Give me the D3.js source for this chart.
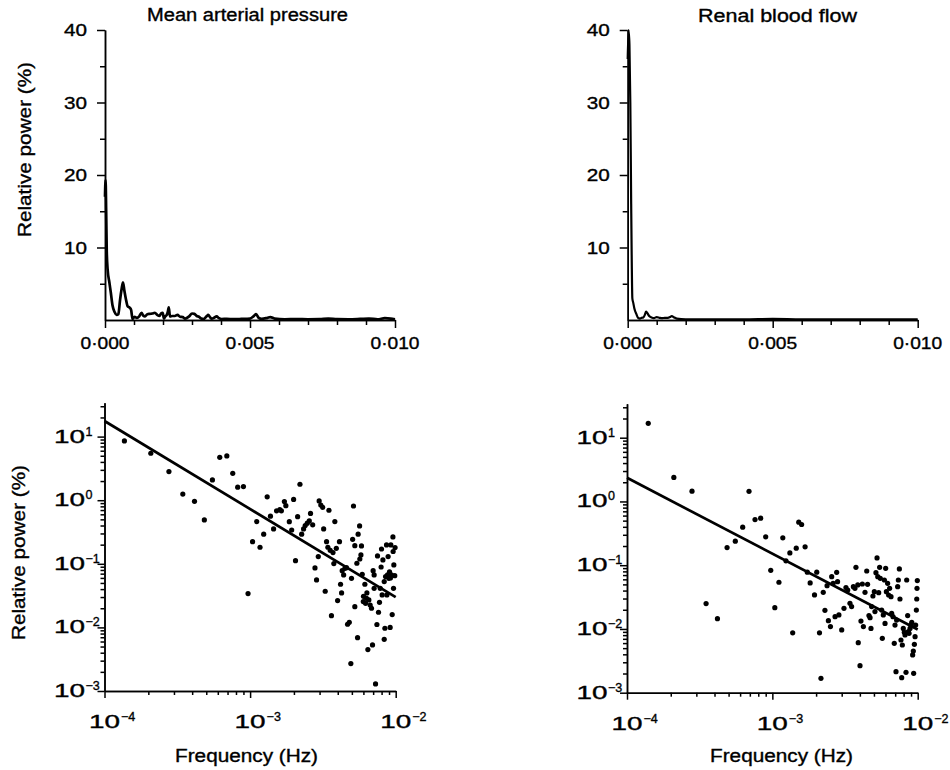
<!DOCTYPE html>
<html><head><meta charset="utf-8">
<script src="https://cdn.jsdelivr.net/npm/d3@7"></script>
<style>
body{margin:0;background:#fff}
text{font-family:"Liberation Sans",Arial,sans-serif;fill:#000;stroke:#000;stroke-width:0.35}
</style>
</head><body>
<svg id="c" width="950" height="770"></svg>
<script>
// ---------------- DATA ----------------
const titles = ["Mean arterial pressure", "Renal blood flow"];
const yAxisTitle = "Relative power (%)";
const xAxisTitle = "Frequency (Hz)";

// top panels (linear)
const linXTicksMajor = [0, 0.005, 0.010];
const linXTickLabels = ["0\u00b7000", "0\u00b7005", "0\u00b7010"];
const linXTicksMinor = [0.001, 0.002, 0.003, 0.004, 0.006, 0.007, 0.008, 0.009];
const linYTicksMajor = [10, 20, 30, 40];
const linYTickLabels = ["10", "20", "30", "40"];
const linYTicksMinor = [5, 15, 25, 35];

const mapSpecFreq = [0, 0.00002, 0.00004, 0.00006, 0.00009, 0.00015, 0.00020, 0.00026, 0.00033, 0.00040,
  0.00046, 0.00052, 0.00057, 0.00062, 0.00067, 0.00072, 0.00078, 0.00085, 0.00090, 0.00095,
  0.00102, 0.00110, 0.00118, 0.00126, 0.00132, 0.00138, 0.00146, 0.00155, 0.00163, 0.00172,
  0.00180, 0.00188, 0.00193, 0.00199, 0.00203, 0.00208, 0.00213, 0.00217, 0.00220, 0.00224,
  0.00232, 0.00241, 0.00250, 0.00259, 0.00268, 0.00276, 0.00290, 0.00300, 0.00308, 0.00316,
  0.00324, 0.00332, 0.00339, 0.00350, 0.00356, 0.00362, 0.00368, 0.00376, 0.00385, 0.00393,
  0.00402, 0.00420, 0.00443, 0.00470, 0.00500, 0.00512, 0.00521, 0.00530, 0.00540, 0.00560,
  0.00570, 0.00585, 0.00620, 0.00660, 0.00700, 0.00740, 0.00770, 0.00800, 0.00840, 0.00880,
  0.00910, 0.00940, 0.00965, 0.00985, 0.01000];
const mapSpecPower = [17, 19.3, 15, 9.5, 7, 5.2, 3.8, 2.0, 1.1, 0.7,
  0.8, 2.8, 4.2, 5.2, 4.0, 2.9, 1.9, 1.7, 1.4, 0.15,
  0.45, 0.3, 0.5, 1.0, 0.6, 0.5, 0.8, 0.85, 0.9, 1.0,
  0.7, 0.55, 0.9, 1.0, 0.2, 0.5, 0.7, 1.2, 1.75, 0.5,
  0.55, 0.55, 0.7, 0.45, 0.4, 0.18, 0.5, 0.9, 0.85, 0.55,
  0.45, 0.2, 0.12, 0.5, 0.7, 0.4, 0.18, 0.3, 0.5, 0.25,
  0.14, 0.15, 0.12, 0.15, 0.2, 0.5, 0.8, 0.3, 0.15, 0.3,
  0.4, 0.2, 0.1, 0.12, 0.1, 0.12, 0.2, 0.12, 0.1, 0.15,
  0.2, 0.1, 0.25, 0.2, 0.1];

const rbfSpecFreq = [0, 0.00003, 0.00006, 0.00009, 0.00012, 0.00014, 0.00016, 0.00019, 0.00023, 0.00030,
  0.00036, 0.00042, 0.00048, 0.00054, 0.00059, 0.00063, 0.00067, 0.00074, 0.00082, 0.00090,
  0.00100, 0.00110, 0.00118, 0.00128, 0.00138, 0.00146, 0.00152, 0.00160, 0.00169, 0.00200,
  0.00300, 0.00400, 0.00500, 0.00600, 0.00800, 0.01000];
const rbfSpecPower = [36, 40, 38, 30, 16, 8, 3, 2.4, 1.6, 0.8,
  0.3, 0.2, 0.3, 0.35, 0.7, 1.15, 1.0, 0.55, 0.35, 0.25,
  0.4, 0.3, 0.25, 0.3, 0.3, 0.4, 0.55, 0.35, 0.2, 0.1,
  0.1, 0.1, 0.15, 0.1, 0.1, 0.1];

// bottom panels (log-log)
const logXTicksMajor = [1e-4, 1e-3, 1e-2];
const logXTickExp = ["\u22124", "\u22123", "\u22122"];
const logXTicksMinor = [2e-4, 3e-4, 4e-4, 5e-4, 6e-4, 7e-4, 8e-4, 9e-4,
  2e-3, 3e-3, 4e-3, 5e-3, 6e-3, 7e-3, 8e-3, 9e-3];
const logYTicksMajor = [1e-3, 1e-2, 1e-1, 1e0, 1e1];
const logYTickExp = ["\u22123", "\u22122", "\u22121", "0", "1"];
const logYTicksMinor = [2e-3, 3e-3, 4e-3, 5e-3, 6e-3, 7e-3, 8e-3, 9e-3,
  2e-2, 3e-2, 4e-2, 5e-2, 6e-2, 7e-2, 8e-2, 9e-2,
  0.2, 0.3, 0.4, 0.5, 0.6, 0.7, 0.8, 0.9,
  2, 3, 4, 5, 6, 7, 8, 9, 20, 30];

const mapFreq = [1.37e-4, 2.08e-4, 2.77e-4, 3.45e-4, 4.15e-4, 4.85e-4, 5.51e-4, 6.19e-4, 6.92e-4, 7.60e-4,
  8.22e-4, 9.00e-4, 9.68e-4, 1.04e-3, 1.11e-3, 1.17e-3, 1.24e-3, 1.31e-3, 1.38e-3, 1.45e-3,
  1.52e-3, 1.60e-3, 1.64e-3, 1.72e-3, 1.76e-3, 1.86e-3, 1.93e-3, 1.99e-3, 2.05e-3, 2.12e-3,
  2.20e-3, 2.26e-3, 2.33e-3, 2.39e-3, 2.47e-3, 2.55e-3, 2.60e-3, 2.69e-3, 2.79e-3, 2.86e-3,
  2.94e-3, 2.98e-3, 3.06e-3, 3.15e-3, 3.20e-3, 3.28e-3, 3.35e-3, 3.42e-3, 3.48e-3, 3.55e-3,
  3.62e-3, 3.71e-3, 3.76e-3, 3.82e-3, 3.91e-3, 3.99e-3, 4.11e-3, 4.18e-3, 4.25e-3, 4.29e-3,
  4.39e-3, 4.48e-3, 4.59e-3, 4.67e-3, 4.80e-3, 4.92e-3, 4.97e-3, 5.06e-3, 5.13e-3, 5.24e-3,
  5.24e-3, 5.41e-3, 5.47e-3, 5.52e-3, 5.65e-3, 5.67e-3, 5.77e-3, 5.82e-3, 5.89e-3, 6.01e-3,
  6.14e-3, 6.21e-3, 6.34e-3, 6.44e-3, 6.54e-3, 6.68e-3, 6.82e-3, 6.93e-3, 7.00e-3, 7.11e-3,
  7.11e-3, 7.27e-3, 7.43e-3, 7.50e-3, 7.62e-3, 7.74e-3, 7.83e-3, 7.94e-3, 7.99e-3, 8.17e-3,
  8.34e-3, 8.43e-3, 8.52e-3, 8.65e-3, 8.79e-3, 8.87e-3, 8.97e-3, 9.16e-3, 9.26e-3, 9.35e-3,
  9.46e-3, 9.57e-3, 9.66e-3, 9.71e-3, 8.34e-3, 9.07e-3, 8.70e-3, 8.07e-3, 9.60e-3, 5.99e-3,
  6.30e-3, 9.90e-3, 9.85e-3, 9.20e-3];
const mapPower = [8.55, 5.47, 2.82, 1.25, 0.96, 0.49, 2.08, 4.73, 4.97, 2.65,
  1.60, 1.64, 0.034, 0.223, 0.461, 0.182, 0.292, 1.13, 0.56, 0.353,
  0.68, 0.71, 0.68, 0.95, 0.82, 0.46, 0.34, 1.03, 0.112, 0.55,
  1.78, 0.292, 0.353, 0.40, 0.435, 0.472, 0.62, 0.41, 0.086, 0.0557,
  0.130, 0.975, 0.84, 0.77, 0.353, 0.037, 0.223, 0.182, 0.695, 0.163,
  0.0153, 0.150, 0.101, 0.461, 0.175, 0.0264, 0.223, 0.0477, 0.0348, 0.078,
  0.0668, 0.085, 0.087, 0.0112, 0.0120, 0.0027, 0.059, 0.243, 0.81, 0.0212,
  0.193, 0.102, 0.0069, 0.292, 0.394, 0.119, 0.138, 0.191, 0.0684, 0.0308,
  0.0477, 0.0239, 0.0348, 0.00448, 0.0270, 0.0225, 0.0200, 0.0053, 0.078, 0.0668,
  0.0412, 0.00129, 0.0111, 0.133, 0.0173, 0.0248, 0.0412, 0.089, 0.171, 0.115,
  0.0065, 0.0097, 0.063, 0.198, 0.0668, 0.130, 0.059, 0.0100, 0.198, 0.0668,
  0.0159, 0.265, 0.0412, 0.096, 0.0525, 0.075, 0.0324, 0.0324, 0.156, 0.0255,
  0.0287, 0.18, 0.065, 0.06];

const rbfFreq = [1.40e-4, 2.10e-4, 2.80e-4, 3.50e-4, 4.19e-4, 4.88e-4, 5.56e-4, 6.25e-4, 6.91e-4, 7.60e-4,
  8.31e-4, 9.00e-4, 9.75e-4, 1.04e-3, 1.11e-3, 1.18e-3, 1.24e-3, 1.32e-3, 1.38e-3, 1.46e-3,
  1.52e-3, 1.59e-3, 1.68e-3, 1.74e-3, 1.82e-3, 1.95e-3, 2.02e-3, 2.11e-3, 2.16e-3, 2.24e-3,
  2.30e-3, 2.38e-3, 2.43e-3, 2.51e-3, 2.56e-3, 2.62e-3, 2.70e-3, 2.77e-3, 2.81e-3, 2.87e-3,
  3.00e-3, 3.11e-3, 3.21e-3, 3.30e-3, 3.42e-3, 3.51e-3, 3.61e-3, 3.70e-3, 3.76e-3, 3.87e-3,
  3.90e-3, 4.01e-3, 4.07e-3, 4.16e-3, 4.23e-3, 4.34e-3, 4.46e-3, 4.52e-3, 4.62e-3, 4.70e-3,
  4.77e-3, 4.82e-3, 4.92e-3, 5.03e-3, 5.08e-3, 5.16e-3, 5.25e-3, 5.31e-3, 5.39e-3, 5.47e-3,
  5.53e-3, 5.65e-3, 5.71e-3, 5.80e-3, 5.90e-3, 5.96e-3, 6.02e-3, 6.09e-3, 6.21e-3, 6.31e-3,
  6.41e-3, 6.55e-3, 6.62e-3, 6.76e-3, 6.90e-3, 6.98e-3, 7.09e-3, 7.16e-3, 7.28e-3, 7.36e-3,
  7.48e-3, 7.55e-3, 7.67e-3, 7.76e-3, 7.84e-3, 7.96e-3, 8.09e-3, 8.18e-3, 8.31e-3, 8.40e-3,
  8.53e-3, 8.63e-3, 8.72e-3, 8.86e-3, 9.00e-3, 9.10e-3, 9.23e-3, 9.33e-3, 9.38e-3, 9.49e-3,
  9.59e-3, 9.68e-3, 9.79e-3, 9.85e-3, 9.89e-3, 9.94e-3];
const rbfPower = [16.8, 2.38, 1.45, 0.025, 0.0145, 0.189, 0.238, 0.395, 1.44, 0.52,
  0.547, 0.279, 0.083, 0.0216, 0.054, 0.269, 0.117, 0.156, 0.0087, 0.185,
  0.473, 0.435, 0.194, 0.0776, 0.0528, 0.0342, 0.0776, 0.0087, 0.00168, 0.0376,
  0.0196, 0.0478, 0.0135, 0.0109, 0.066, 0.052, 0.0156, 0.0773, 0.0552, 0.0166,
  0.00964, 0.0211, 0.0445, 0.0408, 0.0252, 0.0224, 0.046, 0.0434, 0.0927, 0.049,
  0.0061, 0.00265, 0.0133, 0.0507, 0.0109, 0.0376, 0.0811, 0.0501, 0.0162, 0.0150,
  0.0102, 0.0224, 0.0329, 0.0385, 0.0187, 0.0764, 0.130, 0.066, 0.0371, 0.0927,
  0.0622, 0.0198, 0.00713, 0.0166, 0.0586, 0.0122, 0.0893, 0.0385, 0.052, 0.0341,
  0.0434, 0.0321, 0.0176, 0.0156, 0.00596, 0.0115, 0.00214, 0.0138, 0.046, 0.0586,
  0.0873, 0.0295, 0.00671, 0.00172, 0.0056, 0.0102, 0.00885, 0.00804, 0.00209, 0.0586,
  0.0162, 0.00908, 0.00853, 0.0102, 0.0115, 0.0127, 0.00391, 0.00451, 0.00201, 0.00574,
  0.00757, 0.0115, 0.0198, 0.0295, 0.0434, 0.0573];

const fitFreq = [1e-4, 1e-2];
const mapFitPower = [17.6, 0.030];
const rbfFitPower = [2.35, 0.0098];

// ---------------- LAYOUT ----------------
const svg = d3.select("#c");
const AX = 1.5;

function styleAxis(sel) {
  sel.selectAll("path,line").attr("stroke", "#000").attr("stroke-width", AX);
}
function txt(x, y, s, size, len, anchor, rot) {
  const t = svg.append("text").attr("x", x).attr("y", y).attr("font-size", size)
    .attr("text-anchor", anchor || "middle").text(s);
  if (len) t.attr("textLength", len).attr("lengthAdjust", "spacingAndGlyphs");
  if (rot) t.attr("transform", `rotate(${rot},${x},${y})`);
  return t;
}

function linPanel(c, fr, pw, title, titleX, titleY, titleLen, ylab) {
  const x = d3.scaleLinear().domain([0, 0.01]).range([c.x0, c.x1]);
  const y = d3.scaleLinear().domain([0, 40]).range([c.y0, c.y1]);
  const g = svg.append("g");
  g.append("g").attr("transform", `translate(0,${c.y0})`)
    .call(d3.axisBottom(x).tickValues(linXTicksMinor).tickSize(5).tickSizeOuter(0).tickFormat(""))
    .call(styleAxis);
  g.append("g").attr("transform", `translate(0,${c.y0})`)
    .call(d3.axisBottom(x).tickValues(linXTicksMajor).tickSize(8).tickSizeOuter(0).tickFormat(""))
    .call(styleAxis);
  g.append("g").attr("transform", `translate(${c.x0},0)`)
    .call(d3.axisLeft(y).tickValues(linYTicksMinor).tickSize(5).tickSizeOuter(0).tickFormat(""))
    .call(styleAxis);
  g.append("g").attr("transform", `translate(${c.x0},0)`)
    .call(d3.axisLeft(y).tickValues(linYTicksMajor).tickSize(8).tickSizeOuter(0).tickFormat(""))
    .call(styleAxis);
  linXTicksMajor.forEach((v, i) => txt(x(v), c.y0 + 29, linXTickLabels[i], 16.5, 49));
  linYTicksMajor.forEach((v, i) => txt(c.x0 - 18, y(v) + 6, linYTickLabels[i], 16.5, 23, "end"));
  const data = fr.map((f, i) => [f, pw[i]]);
  svg.append("path").datum(data)
    .attr("fill", "none").attr("stroke", "#000").attr("stroke-width", c.lw)
    .attr("stroke-linejoin", "round")
    .attr("d", d3.line().x(d => x(d[0])).y(d => y(d[1])).curve(d3.curveMonotoneX));
  txt(titleX, titleY, title, 17.5, titleLen);
  if (ylab) txt(31, 149.5, yAxisTitle, 17.5, 175, "middle", -90);
}

function logPanel(c, fr, pw, fit, ylab) {
  const yTop = 34;
  const x = d3.scaleLog().domain([1e-4, 1e-2]).range([c.x0, c.x1]);
  const y = d3.scaleLog().domain([1e-3, yTop]).range([c.yLow, c.yLow - Math.log10(yTop / 1e-3) * c.dec]);
  svg.append("g").attr("transform", `translate(0,${c.yLow})`)
    .call(d3.axisBottom(x).tickValues(logXTicksMinor).tickSize(4).tickSizeOuter(0).tickFormat(""))
    .call(styleAxis);
  svg.append("g").attr("transform", `translate(0,${c.yLow})`)
    .call(d3.axisBottom(x).tickValues(logXTicksMajor).tickSize(7).tickSizeOuter(0).tickFormat(""))
    .call(styleAxis);
  svg.append("g").attr("transform", `translate(${c.x0},0)`)
    .call(d3.axisLeft(y).tickValues(logYTicksMinor).tickSize(4).tickSizeOuter(0).tickFormat(""))
    .call(styleAxis);
  svg.append("g").attr("transform", `translate(${c.x0},0)`)
    .call(d3.axisLeft(y).tickValues(logYTicksMajor).tickSize(7).tickSizeOuter(0).tickFormat(""))
    .call(styleAxis);
  logXTicksMajor.forEach((v, i) => {
    const px = x(v);
    txt(px, c.yLow + 37, "10", 17.5, 31);
    txt(px + 16.5, c.yLow + 30, logXTickExp[i], 12.5, null, "start");
  });
  logYTicksMajor.forEach((v, i) => {
    const py = y(v);
    const rx = c.x0 - 19.5;
    txt(rx, py + 6, "10", 17.5, 31, "end");
    txt(rx + 0.5, py - 1, logYTickExp[i], 12.5, null, "start");
  });
  const fd = fitFreq.map((f, i) => [f, fit[i]]);
  svg.append("path").datum(fd).attr("fill", "none").attr("stroke", "#000").attr("stroke-width", 2.7)
    .attr("d", d3.line().x(d => x(d[0])).y(d => y(d[1])));
  const pts = fr.map((f, i) => [f, pw[i]]);
  svg.append("g").selectAll("circle").data(pts).join("circle")
    .attr("cx", d => x(d[0])).attr("cy", d => y(d[1])).attr("r", 2.6).attr("fill", "#000");
  txt(c.labX, 762, xAxisTitle, 17.5, 143);
  if (ylab) txt(25, 552.5, yAxisTitle, 17.5, 175, "middle", -90);
}

linPanel({x0: 105, x1: 395, y0: 320, y1: 30, lw: 2.7}, mapSpecFreq, mapSpecPower, titles[0], 247.5, 21, 201, true);
linPanel({x0: 627.7, x1: 917.7, y0: 320, y1: 30, lw: 2.2}, rbfSpecFreq, rbfSpecPower, titles[1], 777.5, 22, 159, false);
logPanel({x0: 104.5, x1: 395.7, yLow: 691, dec: 63.6, labX: 246.5}, mapFreq, mapPower, mapFitPower, true);
logPanel({x0: 627, x1: 917.7, yLow: 692.7, dec: 63.75, labX: 781.5}, rbfFreq, rbfPower, rbfFitPower, false);
</script>
</body></html>
